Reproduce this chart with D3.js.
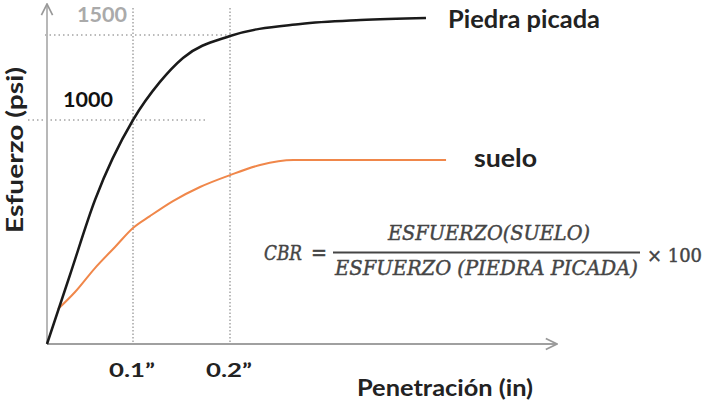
<!DOCTYPE html>
<html><head><meta charset="utf-8">
<script src="https://cdn.jsdelivr.net/npm/d3@7"></script>
<style>body{margin:0;background:#fff}svg{display:block}</style>
</head><body>
<svg id="c" width="711" height="411"></svg>
<script>
// Data (penetration in inches, stress in psi)
const piedraX = [0, 0.0267, 0.0558, 0.1, 0.1278, 0.1515, 0.2, 0.2722, 0.334, 0.401];
const piedraY = [0, 308, 643, 1000, 1224, 1365, 1494, 1565, 1588, 1600];
const sueloX = [0.0128, 0.0326, 0.0558, 0.0791, 0.1, 0.1175, 0.1412, 0.1691, 0.2, 0.2309, 0.2649, 0.4216];
const sueloY = [156, 232, 339, 433, 518, 571, 638, 701, 754, 799, 821, 821];
const xTicks = [0.1, 0.2];
const xTickLabels = ["0.1\u201D", "0.2\u201D"];
const yTicks = [1000, 1500];
const yTickLabels = ["1000", "1500"];
const seriesNames = ["Piedra picada", "suelo"];

const svg = d3.select("#c");
const x = d3.scaleLinear().domain([0, 0.1, 0.2, 0.5]).range([47, 133, 230, 522.5]);
const y = d3.scaleLinear().domain([0, 1000, 1500]).range([344, 120, 35]);
const font = "Lato, 'Open Sans', sans-serif";

// Dotted guides
xTicks.forEach(t => {
  svg.append("line").attr("x1", x(t)).attr("x2", x(t)).attr("y1", 8).attr("y2", y(0))
    .attr("stroke", "#777").attr("stroke-width", 1).attr("stroke-dasharray", "1.5,2");
});
svg.append("line").attr("x1", 45).attr("x2", x(0.2)).attr("y1", y(1500)).attr("y2", y(1500))
  .attr("stroke", "#777").attr("stroke-width", 1).attr("stroke-dasharray", "1.5,3");
svg.append("line").attr("x1", 28).attr("x2", 205).attr("y1", y(1000)).attr("y2", y(1000))
  .attr("stroke", "#777").attr("stroke-width", 1).attr("stroke-dasharray", "1.5,3");

// Axes with arrows
const defs = svg.append("defs");
defs.append("marker").attr("id", "arr").attr("viewBox", "0 0 10 10").attr("refX", 9).attr("refY", 5)
  .attr("markerWidth", 7).attr("markerHeight", 7).attr("orient", "auto")
  .append("path").attr("d", "M1,1 L9,5 L1,9").attr("fill", "none").attr("stroke", "#999").attr("stroke-width", 1.2);
svg.append("line").attr("x1", x(0)).attr("x2", 557).attr("y1", y(0)).attr("y2", y(0))
  .attr("stroke", "#a0a0a0").attr("stroke-width", 2).attr("marker-end", "url(#arr)");
svg.append("line").attr("x1", x(0)).attr("x2", x(0)).attr("y1", y(0)).attr("y2", 4)
  .attr("stroke", "#b8b8b8").attr("stroke-width", 2).attr("marker-end", "url(#arr)");

// Curves
const line = d3.line().x(d => x(d[0])).y(d => y(d[1])).curve(d3.curveMonotoneX);
svg.append("path").datum(sueloX.map((v, i) => [v, sueloY[i]])).attr("d", line)
  .attr("fill", "none").attr("stroke", "#f0874a").attr("stroke-width", 2);
svg.append("path").datum(piedraX.map((v, i) => [v, piedraY[i]])).attr("d", line)
  .attr("fill", "none").attr("stroke", "#1a1a1a").attr("stroke-width", 2.5);

// Tick labels
svg.selectAll(".xt").data(xTicks).enter().append("text")
  .attr("x", d => x(d) - 1).attr("y", 377).attr("text-anchor", "middle")
  .attr("font-family", font).attr("font-weight", "bold").attr("font-size", 19).attr("fill", "#222")
  .attr("textLength", 46).attr("lengthAdjust", "spacingAndGlyphs")
  .text((d, i) => xTickLabels[i]);
svg.append("text").attr("x", 63).attr("y", 107).attr("font-family", font).attr("font-weight", "bold")
  .attr("font-size", 21).attr("fill", "#111").attr("textLength", 50).attr("lengthAdjust", "spacingAndGlyphs").text(yTickLabels[0]);
svg.append("text").attr("x", 77).attr("y", 22).attr("font-family", font).attr("font-weight", "bold")
  .attr("font-size", 21).attr("fill", "#aaa").attr("textLength", 50).attr("lengthAdjust", "spacingAndGlyphs").text(yTickLabels[1]);

// Series labels
svg.append("text").attr("x", 448).attr("y", 28).attr("font-family", font).attr("font-weight", "bold")
  .attr("font-size", 24).attr("fill", "#222").attr("textLength", 152).attr("lengthAdjust", "spacingAndGlyphs").text(seriesNames[0]);
svg.append("text").attr("x", 474).attr("y", 167).attr("font-family", font).attr("font-weight", "bold")
  .attr("font-size", 24).attr("fill", "#222").attr("textLength", 63).attr("lengthAdjust", "spacingAndGlyphs").text(seriesNames[1]);

// Axis titles
svg.append("text").attr("x", 357).attr("y", 396)
  .attr("font-family", font).attr("font-weight", "bold").attr("font-size", 23).attr("fill", "#222")
  .attr("textLength", 176).attr("lengthAdjust", "spacingAndGlyphs")
  .text("Penetración (in)");
svg.append("text").attr("transform", "translate(23,233) rotate(-90)")
  .attr("font-family", font).attr("font-weight", "bold").attr("font-size", 22).attr("fill", "#222")
  .attr("textLength", 166).attr("lengthAdjust", "spacingAndGlyphs")
  .text("Esfuerzo (psi)");

// Formula
const ff = "'DejaVu Serif', 'Liberation Serif', serif";
const fcol = "#454545";
const fg = svg.append("g").attr("fill", fcol).attr("stroke", fcol).attr("stroke-width", 0.45).attr("font-family", ff);
fg.append("text").attr("x", 264).attr("y", 260).attr("font-style", "italic")
  .attr("font-size", 20).attr("textLength", 38).attr("lengthAdjust", "spacingAndGlyphs").text("CBR");
fg.append("text").attr("x", 311).attr("y", 260)
  .attr("font-size", 22).attr("textLength", 16).attr("lengthAdjust", "spacingAndGlyphs").text("=");
fg.append("text").attr("x", 388).attr("y", 240).attr("font-style", "italic")
  .attr("font-size", 20).attr("textLength", 202).attr("lengthAdjust", "spacingAndGlyphs").text("ESFUERZO(SUELO)");
svg.append("line").attr("x1", 333).attr("x2", 640).attr("y1", 252.5).attr("y2", 252.5).attr("stroke", fcol).attr("stroke-width", 1.8);
fg.append("text").attr("x", 335).attr("y", 275).attr("font-style", "italic")
  .attr("font-size", 20).attr("textLength", 303).attr("lengthAdjust", "spacingAndGlyphs").text("ESFUERZO (PIEDRA PICADA)");
fg.append("text").attr("x", 647).attr("y", 262)
  .attr("font-size", 18).attr("textLength", 55).attr("lengthAdjust", "spacingAndGlyphs").text("\u00D7 100");
</script>
</body></html>
